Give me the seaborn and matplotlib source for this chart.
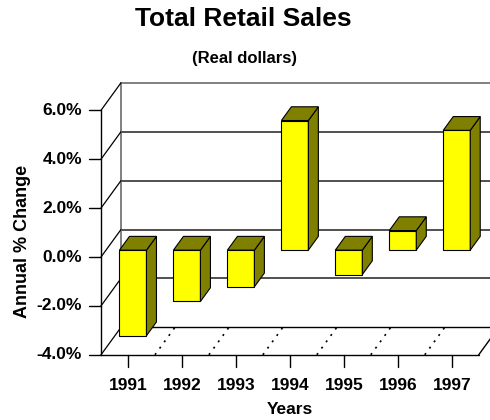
import matplotlib
matplotlib.use('Agg')
import matplotlib.pyplot as plt
import matplotlib.transforms as mtransforms
from matplotlib.patches import Polygon
import pandas as pd
import seaborn as sns

# ---- data ----
years = ['1991', '1992', '1993', '1994', '1995', '1996', '1997']
changes = [-3.5, -2.1, -1.5, 5.3, -1.0, 0.8, 4.9]
y_ticks = [-4, -2, 0, 2, 4, 6]
y_tick_labels = ['-4.0%', '-2.0%', '0.0%', '2.0%', '4.0%', '6.0%']
title = 'Total Retail Sales'
subtitle = '(Real dollars)'
x_label = 'Years'
y_label = 'Annual % Change'

sns.set_style('white')
plt.rcParams['font.family'] = ['Liberation Sans', 'DejaVu Sans']
plt.rcParams['font.weight'] = 'bold'
plt.rcParams['text.color'] = 'black'

W, H = 490, 420
fig = plt.figure(figsize=(W / 100, H / 100), dpi=100)
ax = fig.add_axes([0, 0, 1, 1])

df = pd.DataFrame({'Years': years, 'Change': changes})
sns.barplot(data=df, x='Years', y='Change', ax=ax, width=0.5,
            color='#FFFF00', saturation=1, edgecolor='black',
            linewidth=0.8, zorder=5, errorbar=None)

# scale: pixels per category / per percent
PX_CAT = 53.96
PX_PCT = 24.45
left_px, zero_px = 101, 257
x_lo = -0.5 - left_px / PX_CAT
y_hi = zero_px / PX_PCT
ax.set_xlim(x_lo, x_lo + W / PX_CAT)
ax.set_ylim(y_hi - H / PX_PCT, y_hi)
ax.axis('off')

DX = 20 / PX_CAT
DY = 27.5 / PX_PCT
n = len(years)
xl, xr = -0.5, n - 0.5
ymin, ymax = y_ticks[0], y_ticks[-1]

# back wall gridlines
for v in y_ticks:
    if v == ymax:
        ax.plot([xl + DX, xr + DX + 1], [v + DY, v + DY], color='#808080', lw=1.4, zorder=1)
    elif v == ymin:
        ax.plot([xl + DX, xr + DX], [v + DY, v + DY], color='black', lw=1.0, zorder=1)
    else:
        ax.plot([xl + DX, xr + DX + 1], [v + DY, v + DY], color='#202020', lw=1.1, zorder=1)
# back wall left vertical
ax.plot([xl + DX, xl + DX], [ymin + DY, ymax + DY], color='#808080', lw=1.4, zorder=1)
# left wall diagonals
for v in y_ticks:
    ax.plot([xl, xl + DX], [v, v + DY], color='black', lw=0.9, zorder=2)
# front y axis and ticks
ax.plot([xl, xl], [ymin, ymax], color='black', lw=1.0, zorder=2)
tick_len_x = 12 / PX_CAT
for v, lab in zip(y_ticks, y_tick_labels):
    ax.plot([xl - tick_len_x, xl], [v, v], color='black', lw=1.0, zorder=2)
    ax.text(xl - 19 / PX_CAT, v, lab, ha='right', va='center', fontsize=12.5, fontweight='bold')

# floor
ax.plot([xl, xr], [ymin, ymin], color='black', lw=1.0, zorder=2)
ax.plot([xr, xr + DX], [ymin, ymin + DY], color='black', lw=1.0, zorder=2)
for i in range(n - 1):
    b = i + 0.5
    ax.plot([b, b + DX], [ymin, ymin + DY], color='black', lw=1.2,
            linestyle=(0, (1.2, 3.5)), zorder=2)
# x ticks and labels
tick_len_y = 12 / PX_PCT
for i, lab in enumerate(years):
    ax.plot([i, i], [ymin - tick_len_y, ymin], color='black', lw=1.0, zorder=2)
    ax.text(i, y_hi - 386 / PX_PCT, lab, ha='center', va='center', fontsize=12.5, fontweight='bold')

ax.text(3, y_hi - 410 / PX_PCT, x_label, ha='center', va='center', fontsize=12.5, fontweight='bold')
ax.text(x_lo + 22.5 / PX_CAT, y_hi - 241 / PX_PCT, y_label, ha='center', va='center',
        rotation=90, fontsize=13, fontweight='bold')

# 3D bar faces
d0, d1 = 0.25, 0.75
olive = '#808000'
for p in list(ax.patches):
    x0, w = p.get_x(), p.get_width()
    y0, h = p.get_y(), p.get_height()
    yb, yt = min(y0, y0 + h), max(y0, y0 + h)
    p.set_transform(mtransforms.Affine2D().translate(d0 * DX, d0 * DY) + ax.transData)
    side = Polygon([(x0 + w + d0 * DX, yb + d0 * DY), (x0 + w + d1 * DX, yb + d1 * DY),
                    (x0 + w + d1 * DX, yt + d1 * DY), (x0 + w + d0 * DX, yt + d0 * DY)],
                   closed=True, facecolor=olive, edgecolor='black', lw=0.8, zorder=5)
    top = Polygon([(x0 + d0 * DX, yt + d0 * DY), (x0 + d1 * DX, yt + d1 * DY),
                   (x0 + w + d1 * DX, yt + d1 * DY), (x0 + w + d0 * DX, yt + d0 * DY)],
                  closed=True, facecolor=olive, edgecolor='black', lw=0.8, zorder=5)
    ax.add_patch(side)
    ax.add_patch(top)

fig.text(243 / W, 1 - 19 / H, title, ha='center', va='center', fontsize=19, fontweight='bold')
fig.text(244 / W, 1 - 58 / H, subtitle, ha='center', va='center', fontsize=12, fontweight='bold')

fig.savefig('out.png', dpi=100)
